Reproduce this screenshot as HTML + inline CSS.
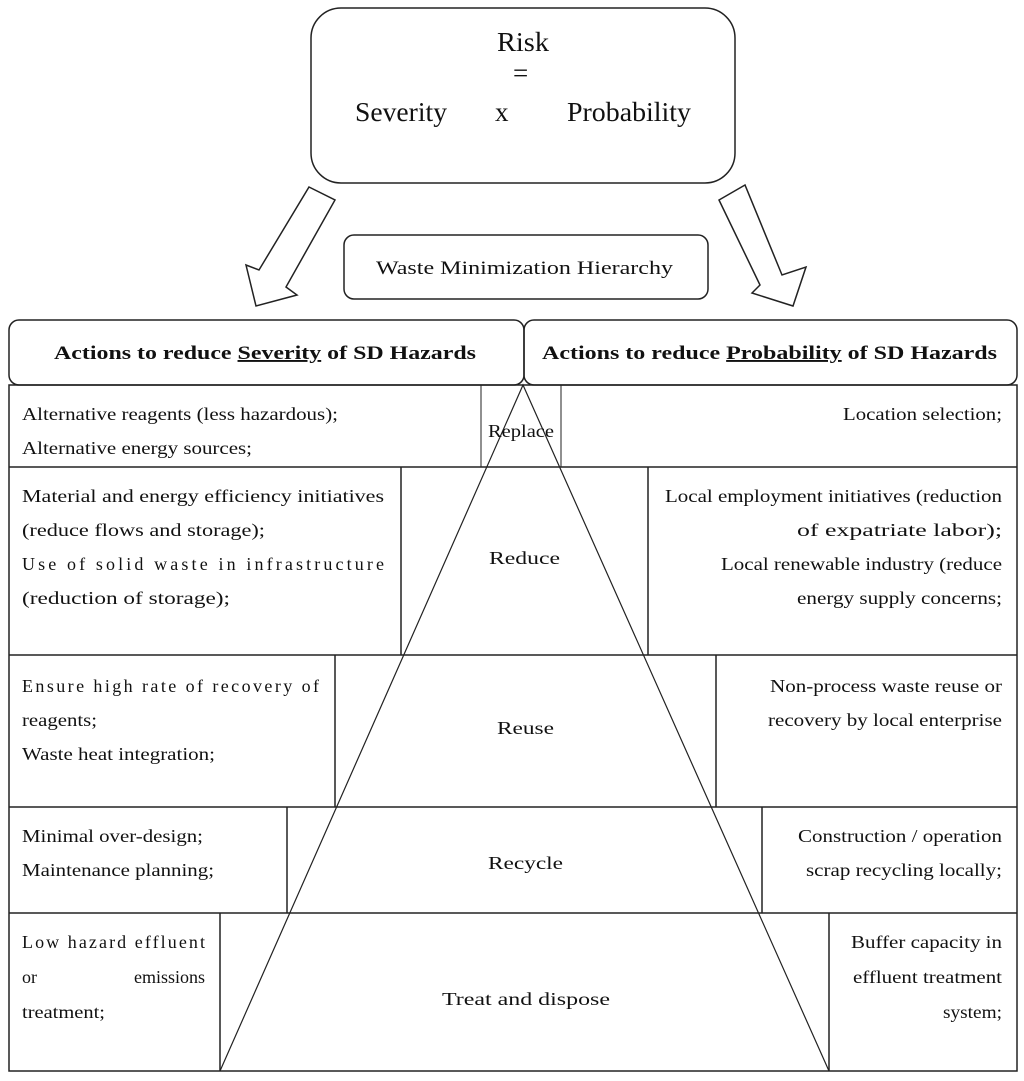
<!DOCTYPE html>
<html><head><meta charset="utf-8"><style>
html,body{margin:0;padding:0;background:#fff;}
svg{display:block;}
text{font-family:"Liberation Serif",serif;fill:#111;}
</style></head><body>
<svg width="1024" height="1081" viewBox="0 0 1024 1081" xmlns="http://www.w3.org/2000/svg">
<g fill="none" stroke="#222" stroke-width="1.5">
<rect x="311" y="8" width="424" height="175" rx="30"/>
<polygon points="309,187 335,200 286,287 297,295 256,306 246,265 259,270"/>
<polygon points="745,185 719,200 760,285 752,293 793,306 806,267 782,275"/>
<rect x="344" y="235" width="364" height="64" rx="10"/>
<rect x="9" y="320" width="515" height="65" rx="10"/>
<rect x="524" y="320" width="493" height="65" rx="10"/>
<rect x="9" y="385" width="1008" height="686"/>
<line x1="9" y1="467" x2="1017" y2="467"/>
<line x1="9" y1="655" x2="1017" y2="655"/>
<line x1="9" y1="807" x2="1017" y2="807"/>
<line x1="9" y1="913" x2="1017" y2="913"/>
<line x1="481" y1="385" x2="481" y2="467" stroke-width="1"/>
<line x1="561" y1="385" x2="561" y2="467" stroke-width="1"/>
<line x1="401" y1="467" x2="401" y2="655"/>
<line x1="648" y1="467" x2="648" y2="655"/>
<line x1="335" y1="655" x2="335" y2="807"/>
<line x1="716" y1="655" x2="716" y2="807"/>
<line x1="287" y1="807" x2="287" y2="913"/>
<line x1="762" y1="807" x2="762" y2="913"/>
<line x1="220" y1="913" x2="220" y2="1071"/>
<line x1="829" y1="913" x2="829" y2="1071"/>
<polyline points="220,1071 523,385 829,1071" stroke-width="1.2"/>
</g>
<g font-size="27" lengthAdjust="spacingAndGlyphs">
<text x="497" y="51" textLength="52" lengthAdjust="spacingAndGlyphs">Risk</text>
<text x="513" y="82">=</text>
<text x="355" y="121" textLength="92" lengthAdjust="spacingAndGlyphs">Severity</text>
<text x="495" y="121">x</text>
<text x="567" y="121" textLength="124" lengthAdjust="spacingAndGlyphs">Probability</text>
</g>
<text x="376" y="274" font-size="19" textLength="297" lengthAdjust="spacingAndGlyphs">Waste Minimization Hierarchy</text>
<g font-size="19" font-weight="bold">
<text x="54" y="359" textLength="422" lengthAdjust="spacingAndGlyphs">Actions to reduce <tspan text-decoration="underline">Severity</tspan> of SD Hazards</text>
<text x="542" y="359" textLength="455" lengthAdjust="spacingAndGlyphs">Actions to reduce <tspan text-decoration="underline">Probability</tspan> of SD Hazards</text>
</g>
<g font-size="18">
<text x="488" y="437" textLength="66" lengthAdjust="spacingAndGlyphs">Replace</text>
<text x="489" y="564" textLength="71" lengthAdjust="spacingAndGlyphs">Reduce</text>
<text x="497" y="734" textLength="57" lengthAdjust="spacingAndGlyphs">Reuse</text>
<text x="488" y="869" textLength="75" lengthAdjust="spacingAndGlyphs">Recycle</text>
<text x="442" y="1005" textLength="168" lengthAdjust="spacingAndGlyphs">Treat and dispose</text>
</g>
<g font-size="18">
<text x="22" y="420" textLength="316" lengthAdjust="spacingAndGlyphs">Alternative reagents (less hazardous);</text>
<text x="22" y="454" textLength="230" lengthAdjust="spacingAndGlyphs">Alternative energy sources;</text>
<text x="22" y="502" textLength="362" lengthAdjust="spacingAndGlyphs">Material and energy efficiency initiatives</text>
<text x="22" y="536" textLength="243" lengthAdjust="spacingAndGlyphs">(reduce flows and storage);</text>
<text x="22" y="570" textLength="362" lengthAdjust="spacing">Use of solid waste in infrastructure</text>
<text x="22" y="604" textLength="208" lengthAdjust="spacingAndGlyphs">(reduction of storage);</text>
<text x="22" y="692" textLength="297" lengthAdjust="spacing">Ensure high rate of recovery of</text>
<text x="22" y="726" textLength="75" lengthAdjust="spacingAndGlyphs">reagents;</text>
<text x="22" y="760" textLength="193" lengthAdjust="spacingAndGlyphs">Waste heat integration;</text>
<text x="22" y="842" textLength="181" lengthAdjust="spacingAndGlyphs">Minimal over-design;</text>
<text x="22" y="876" textLength="192" lengthAdjust="spacingAndGlyphs">Maintenance planning;</text>
<text x="22" y="948" textLength="183" lengthAdjust="spacing">Low hazard effluent</text>
<text x="22" y="983">or</text>
<text x="205" y="983" text-anchor="end">emissions</text>
<text x="22" y="1018" textLength="83" lengthAdjust="spacingAndGlyphs">treatment;</text>
</g>
<g font-size="18">
<text x="843" y="420" textLength="159" lengthAdjust="spacingAndGlyphs">Location selection;</text>
<text x="665" y="502" textLength="337" lengthAdjust="spacingAndGlyphs">Local employment initiatives (reduction</text>
<text x="797" y="536" textLength="205" lengthAdjust="spacingAndGlyphs">of expatriate labor);</text>
<text x="721" y="570" textLength="281" lengthAdjust="spacingAndGlyphs">Local renewable industry (reduce</text>
<text x="797" y="604" textLength="205" lengthAdjust="spacingAndGlyphs">energy supply concerns;</text>
<text x="770" y="692" textLength="232" lengthAdjust="spacingAndGlyphs">Non-process waste reuse or</text>
<text x="768" y="726" textLength="234" lengthAdjust="spacingAndGlyphs">recovery by local enterprise</text>
<text x="798" y="842" textLength="204" lengthAdjust="spacingAndGlyphs">Construction / operation</text>
<text x="806" y="876" textLength="196" lengthAdjust="spacingAndGlyphs">scrap recycling locally;</text>
<text x="851" y="948" textLength="151" lengthAdjust="spacingAndGlyphs">Buffer capacity in</text>
<text x="853" y="983" textLength="149" lengthAdjust="spacingAndGlyphs">effluent treatment</text>
<text x="943" y="1018" textLength="59" lengthAdjust="spacingAndGlyphs">system;</text>
</g>
</svg>
</body></html>
